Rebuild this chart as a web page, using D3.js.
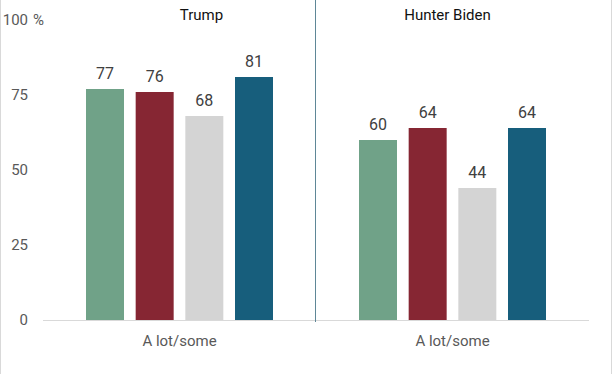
<!DOCTYPE html>
<html lang="en">
<head>
    <meta charset="UTF-8">
    <title>chart</title>
    <script src="https://cdn.jsdelivr.net/npm/d3@7"></script>
    <style>
        body { margin: 0; background: #fff; }
        text { font-family: Roboto, "Noto Sans", sans-serif; }
    </style>
</head>
<body>
<svg width="612" height="374" xmlns="http://www.w3.org/2000/svg" id="my-svg"></svg>
<script>
    // data
    const groups = ["Trump", "Hunter Biden"];
    const category = "A lot/some";
    const series = ["Total", "Republican", "Independent", "Democrat"];
    const trumpValues = [77, 76, 68, 81];
    const hunterValues = [60, 64, 44, 64];
    const yTicks = [0, 25, 50, 75, 100];

    const values = [trumpValues, hunterValues];
    const colors = ["#70a288", "#862633", "#d4d4d4", "#175e7c"];

    const svg = d3.select("#my-svg");
    const W = 612, H = 374;

    // outer frame (left / right light gray edges)
    svg.append("line").attr("x1", 0.5).attr("x2", 0.5).attr("y1", 0).attr("y2", H)
        .attr("stroke", "#d9d9d9").attr("stroke-width", 1);
    svg.append("line").attr("x1", W - 0.5).attr("x2", W - 0.5).attr("y1", 0).attr("y2", H)
        .attr("stroke", "#d9d9d9").attr("stroke-width", 1);

    const y = d3.scaleLinear().domain([0, 100]).range([320, 20]);
    const x0 = d3.scaleBand().domain(groups).range([43, 589]);
    const x1 = d3.scaleBand().domain(series).range([0, x0.bandwidth()])
        .paddingInner(0.235).paddingOuter(0.866);

    // y axis labels
    svg.append("g").selectAll("text").data(yTicks).join("text")
        .attr("x", 28)
        .attr("y", d => y(d))
        .attr("dy", "0.36em")
        .attr("text-anchor", "end")
        .attr("font-size", 15)
        .attr("fill", "#595959")
        .text(d => d);
    svg.append("text")
        .attr("x", 33).attr("y", y(100)).attr("dy", "0.36em")
        .attr("font-size", 15).attr("fill", "#595959")
        .text("%");

    // baseline
    svg.append("line")
        .attr("x1", 43).attr("x2", 589)
        .attr("y1", y(0) + 0.5).attr("y2", y(0) + 0.5)
        .attr("stroke", "#d9d9d9").attr("stroke-width", 1);

    // divider between panels
    svg.append("line")
        .attr("x1", x0(groups[1]) - 0.5).attr("x2", x0(groups[1]) - 0.5)
        .attr("y1", 0).attr("y2", y(0) + 2)
        .attr("stroke", "#5f8797").attr("stroke-width", 1);

    const titleShift = [22, -5];

    groups.forEach((g, gi) => {
        const gx = x0(g);
        const panel = svg.append("g").attr("transform", "translate(" + gx + ",0)");

        panel.selectAll("rect").data(values[gi]).join("rect")
            .attr("x", (d, i) => x1(series[i]))
            .attr("y", d => y(d))
            .attr("width", x1.bandwidth())
            .attr("height", d => y(0) - y(d))
            .attr("fill", (d, i) => colors[i]);

        panel.selectAll(".val").data(values[gi]).join("text")
            .attr("class", "val")
            .attr("x", (d, i) => x1(series[i]) + x1.bandwidth() / 2)
            .attr("y", d => y(d) - 10)
            .attr("text-anchor", "middle")
            .attr("font-size", 16)
            .attr("fill", "#404040")
            .text(d => d);

        panel.append("text")
            .attr("x", x0.bandwidth() / 2)
            .attr("y", 346)
            .attr("text-anchor", "middle")
            .attr("font-size", 15)
            .attr("fill", "#595959")
            .text(category);

        panel.append("text")
            .attr("x", x0.bandwidth() / 2 + titleShift[gi])
            .attr("y", 20)
            .attr("text-anchor", "middle")
            .attr("font-size", 15)
            .attr("fill", "#111")
            .text(g);
    });
</script>
</body>
</html>
